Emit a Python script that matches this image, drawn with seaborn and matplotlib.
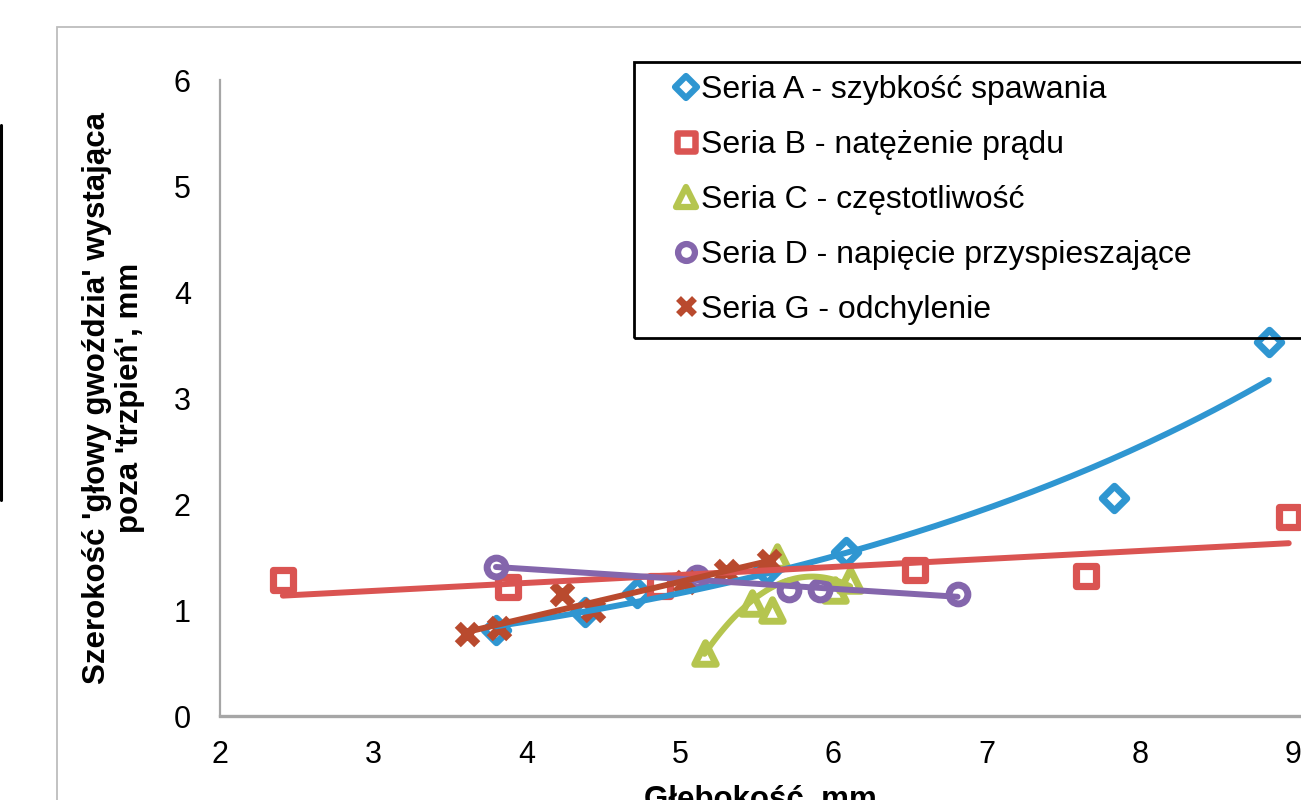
import numpy as np
import pandas as pd
import seaborn as sns
import matplotlib
matplotlib.use("Agg")
import matplotlib.pyplot as plt
from matplotlib.markers import MarkerStyle
from matplotlib.lines import Line2D
from matplotlib.patches import Rectangle

# ---- data ----
a_x = [3.80, 4.38, 4.72, 5.57, 6.08, 7.83, 8.84]
a_y = [0.81, 0.98, 1.16, 1.38, 1.55, 2.06, 3.53]
b_x = [2.41, 3.88, 4.87, 6.53, 7.65, 8.97]
b_y = [1.28, 1.22, 1.23, 1.38, 1.32, 1.88]
c_x = [5.16, 5.47, 5.60, 5.63, 6.01, 6.11]
c_y = [0.59, 1.07, 1.00, 1.50, 1.19, 1.28]
d_x = [3.80, 5.11, 5.71, 5.91, 6.81]
d_y = [1.41, 1.31, 1.19, 1.19, 1.15]
g_x = [3.61, 3.82, 4.23, 4.43, 5.03, 5.30, 5.58]
g_y = [0.77, 0.83, 1.15, 1.00, 1.26, 1.37, 1.46]

labels = ["Seria A - szybkość spawania",
          "Seria B - natężenie prądu",
          "Seria C - częstotliwość",
          "Seria D - napięcie przyspieszające",
          "Seria G - odchylenie"]
x_ticks = [2, 3, 4, 5, 6, 7, 8, 9]
y_ticks = [0, 1, 2, 3, 4, 5, 6]
# trendline types: "exp" = exponential, int = polynomial order
trend_type = ["exp", 1, 2, 1, 1]

colors = ["#2F96D1", "#DA5452", "#B5C54F", "#8466AC", "#B94A2E"]
markers = ["D", "s", "^", "o", "x"]
msizes = [12.5, 14.5, 15.5, 13.5, 14.0]
mews = [5.0, 5.2, 5.0, 5.0, 6.2]

series = [(a_x, a_y), (b_x, b_y), (c_x, c_y), (d_x, d_y), (g_x, g_y)]

sns.set_theme(style="white")
plt.rcParams['font.family'] = ['Liberation Sans', 'DejaVu Sans']
plt.rcParams['text.color'] = 'black'
plt.rcParams['axes.labelcolor'] = 'black'
plt.rcParams['xtick.color'] = 'black'
plt.rcParams['ytick.color'] = 'black'

W, H = 1301, 800
fig = plt.figure(figsize=(W / 100, H / 100), dpi=100)
ax = fig.add_axes([220 / W, 1 - 716 / H, (W - 220) / W, (716 - 80) / H])

# scatter markers
for (xs, ys), col, mk, ms, mw in zip(series, colors, markers, msizes, mews):
    df = pd.DataFrame({"x": xs, "y": ys})
    if mk == "x":
        sns.scatterplot(data=df, x="x", y="y", ax=ax,
                        marker=MarkerStyle("x", joinstyle="miter", capstyle="butt"),
                        s=ms ** 2, color=col, linewidths=mw, zorder=3)
    else:
        sns.scatterplot(data=df, x="x", y="y", ax=ax,
                        marker=MarkerStyle(mk, joinstyle="round"),
                        s=ms ** 2, facecolor="white", edgecolor=col,
                        linewidth=mw, zorder=3)

# trendlines
for (xs, ys), col, tt in zip(series, colors, trend_type):
    df = pd.DataFrame({"x": xs, "y": ys})
    kw = dict(color=col, lw=4.3, solid_capstyle="round", zorder=4)
    if tt == "exp":
        b, lna = np.polyfit(np.array(xs), np.log(ys), 1)
        gx = np.linspace(min(xs), max(xs), 200)
        fit = pd.DataFrame({"x": gx, "y": np.exp(lna + b * gx)})
        sns.lineplot(data=fit, x="x", y="y", ax=ax, **kw)
    else:
        sns.regplot(data=df, x="x", y="y", ax=ax, scatter=False, order=tt,
                    ci=None, truncate=True, line_kws=kw)

ax.set_xlim(2, 9.05)
ax.set_ylim(0, 6)
ax.set_xticks(x_ticks)
ax.set_yticks(y_ticks)
ax.set_xticklabels([str(t) for t in x_ticks])
ax.set_yticklabels([str(t) for t in y_ticks])
ax.tick_params(axis="both", length=0, labelsize=22, colors="black")
ax.tick_params(axis="y", pad=21)
ax.tick_params(axis="x", pad=17)

for s in ["top", "right"]:
    ax.spines[s].set_visible(False)
ax.spines["left"].set_color("#A6A6A6")
ax.spines["left"].set_linewidth(1.6)
ax.spines["bottom"].set_color("#A6A6A6")
ax.spines["bottom"].set_linewidth(2.4)
ax.spines["bottom"].set_clip_on(False)
ax.grid(False)

ax.set_xlabel("Głębokość, mm", fontsize=22.5, fontweight="bold", labelpad=11)
ax.set_ylabel("Szerokość 'głowy gwoździa' wystająca\npoza 'trzpień', mm",
              fontsize=22.5, fontweight="bold", linespacing=1.15)
ax.yaxis.set_label_coords((145 - 220) / (W - 220), 0.5)

# legend
handles = []
for col, mk, ms, mw in zip(colors, markers, msizes, mews):
    if mk == "x":
        h = Line2D([], [], ls="none", marker="x", color=col, markersize=11.5,
                   markeredgewidth=5)
    else:
        h = Line2D([], [], ls="none", marker=MarkerStyle(mk, joinstyle="round"),
                   markerfacecolor="white", markeredgecolor=col,
                   markersize=ms * 0.9, markeredgewidth=mw * 0.9)
    handles.append(h)
leg = fig.legend(handles, labels, loc="upper left",
                 bbox_to_anchor=(675 / W, 1 - 75 / H), frameon=False,
                 fontsize=23, handlelength=0.7, handletextpad=0.12,
                 labelspacing=0.78, borderpad=0.0, borderaxespad=0)

# legend box
fig.add_artist(Rectangle((634 / W, 1 - 338 / H), (W + 10 - 634) / W, (338 - 62) / H,
                         transform=fig.transFigure, fill=False, edgecolor="black",
                         linewidth=2.0, clip_on=False, zorder=5))
# outer chart frame
fig.add_artist(Rectangle((57 / W, -0.05), 1.1, 1 - 27 / H + 0.05,
                         transform=fig.transFigure, fill=False, edgecolor="#BDBDBD",
                         linewidth=1.3, clip_on=False, zorder=0))
# black vertical line at left edge
fig.add_artist(Line2D([1.5 / W, 1.5 / W], [1 - 125 / H, 1 - 500 / H],
                      transform=fig.transFigure, color="black", lw=2.2))

fig.savefig("out.png", dpi=100)
